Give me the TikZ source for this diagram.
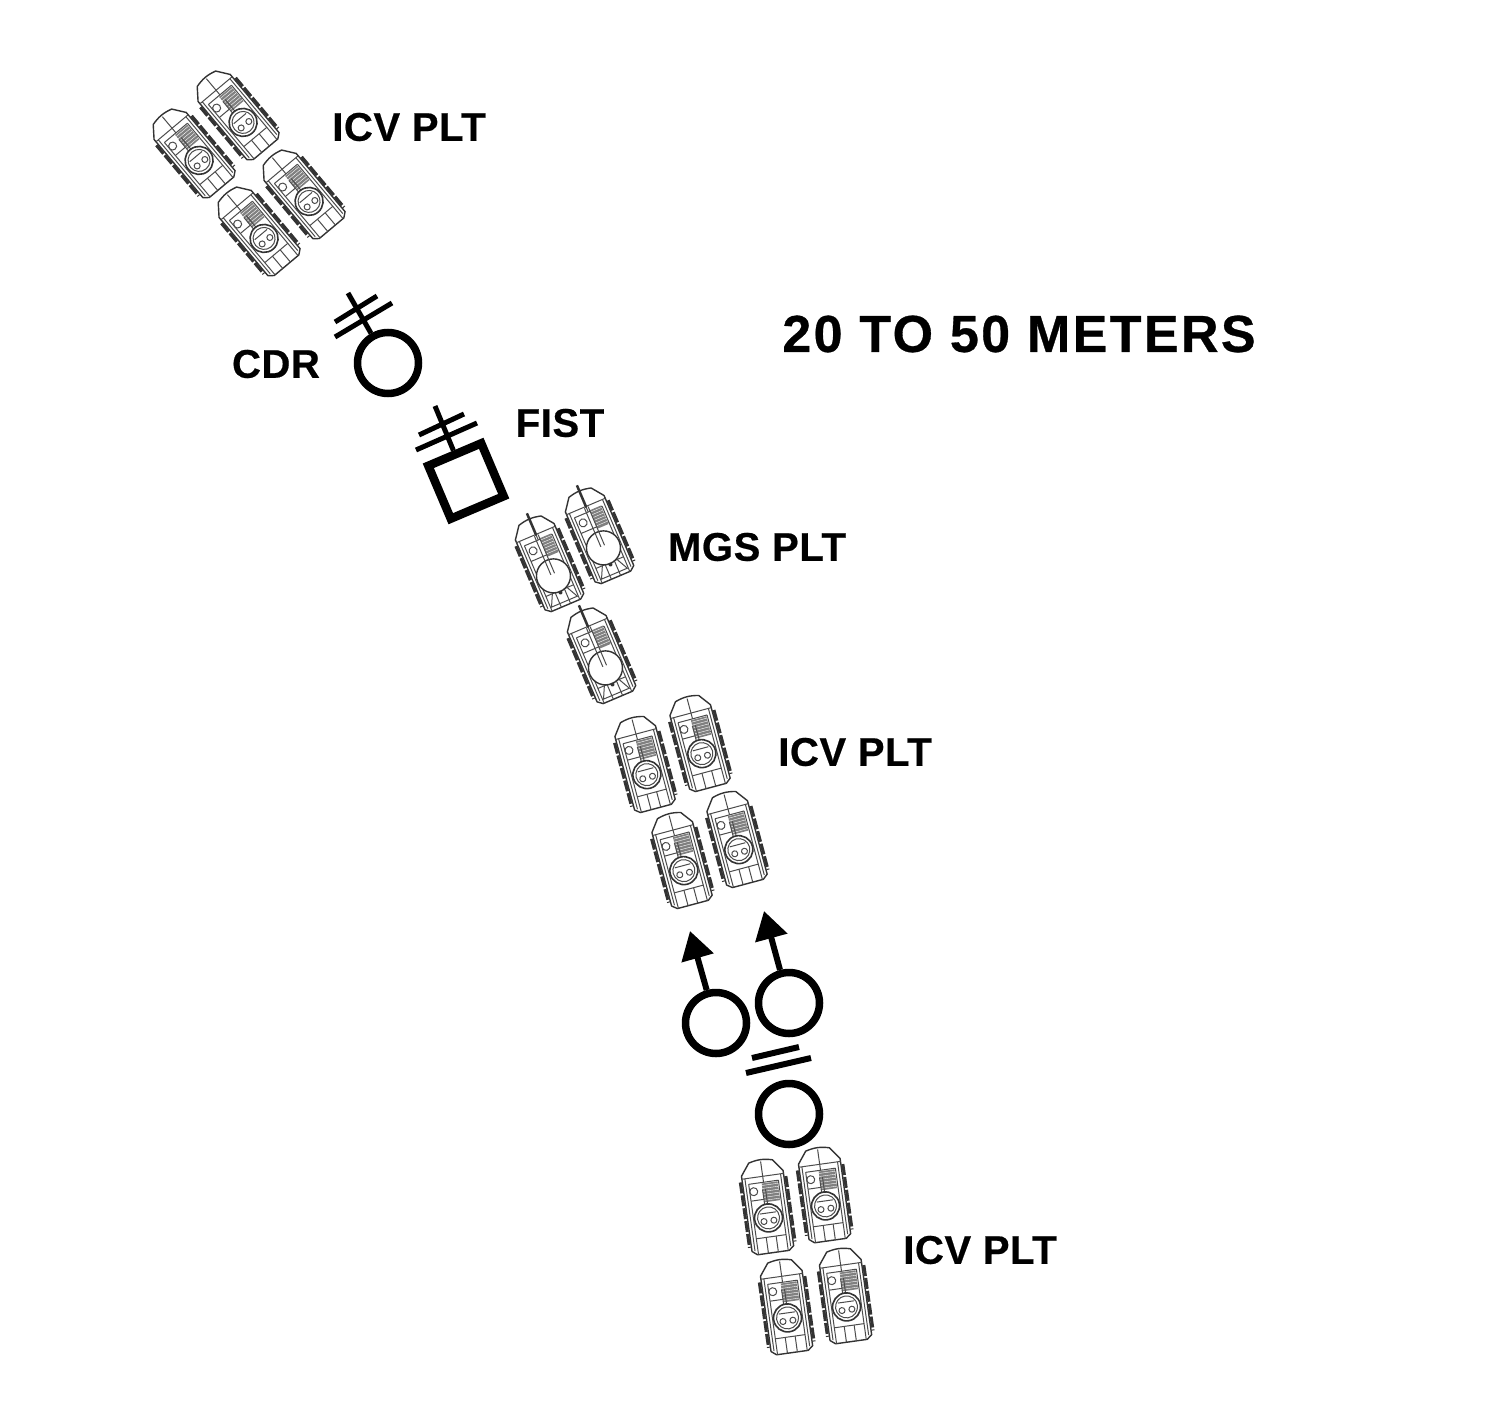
\documentclass[tikz,border=0pt]{standalone}
\usepackage{fontspec}
\setmainfont{Liberation Sans}
\usetikzlibrary{
	arrows.meta
}
% shared body of both carriers
\newcommand{\hullbody}{
	\draw[track line] (-23,-28) -- (-23,38);
	\draw[track line] (23,-28) -- (23,38);
	\draw[hull line] (-12,-46) to[bend left=15] (12,-46) -- (21,-34) -- (21,42) -- (16,46)
		-- (-16,46) -- (-21,42) -- (-21,-34) -- cycle;
	\draw[inner line] (-21,-31) -- (21,-31);
	\draw[inner line] (-15,-25) -- (15,-25);
	\draw[inner line] (-15,-25) -- (-15,46);
	\draw[inner line] (15,-25) -- (15,46);
	\draw[inner line] (-18,-31) -- (-18,42);
	\draw[inner line] (18,-31) -- (18,42);
	\draw[inner line] (0,-46) -- (0,-25);
	\draw[inner line] (-5,30) -- (-5,46);
	\draw[inner line] (5,30) -- (5,46);
	\draw[inner line] (-15,30) -- (15,30);
	\draw[inner line] (-15,-8) -- (15,-8);
}
\tikzset{
	mark line/.style={
		black,
		line width=5pt
	},
	unit ring/.style={
		circle,
		draw=black,
		line width=7.5pt,
		minimum size=61pt,
		inner sep=0pt
	},
	unit box/.style={
		rectangle,
		draw=black,
		line width=8.5pt,
		minimum size=57.5pt,
		inner sep=0pt,
		rotate=23
	},
	plt label/.style={
		font=\bfseries\fontsize{40}{40}\selectfont\addfontfeature{LetterSpace=1.5,FakeBold=.5},
		inner sep=0pt
	},
	move arrow/.style={
		black,
		line width=6pt,
		-{Triangle[width=32pt,length=28pt]}
	},
	hull line/.style={
		draw=black!80,
		line width=1.4pt,
		line join=round,
		fill=white
	},
	inner line/.style={
		draw=black!70,
		line width=1pt
	},
	track line/.style={
		draw=black!80,
		line width=3pt,
		dash pattern=on 11pt off 2pt
	},
	pics/icv/.style={
		code={
			\hullbody
			\fill[black!50] (-2,-24) rectangle (14,-5);
			\foreach \y in {-22,-19,...,-6} {
				\draw[white, line width=.4pt] (-2,\y) -- (14,\y);
			}
			\draw[inner line] (-11,-17) circle (4);
			\draw[inner line] (-2,-18) -- (-2,0);
			\draw[inner line] (1,-18) -- (1,0);
			\draw[draw=black!80, line width=1.6pt, fill=white] (0,11) circle (14);
			\draw[inner line] (0,11) circle (11);
			\draw[inner line] (-5,14) circle (3);
			\draw[inner line] (5,14) circle (3);
			\draw[inner line] (-8,6) -- (8,6);
		}
	},
	pics/mgs/.style={
		code={
			\hullbody
			\fill[black!50] (2,-26) rectangle (14,-6);
			\foreach \y in {-24,-21,...,-8} {
				\draw[white, line width=.4pt] (2,\y) -- (14,\y);
			}
			\draw[inner line] (-9,-17) circle (4);
			\draw[draw=black!80, line width=1.4pt, fill=white] (0,14) circle (17);
			\draw[inner line] (-8,30) -- (-14,42) -- (14,42) -- (8,30);
			\draw[draw=black!80, line width=2.5pt] (0,-54) -- (0,-30);
			\draw[inner line] (-2,-30) -- (-2,12);
			\draw[inner line] (2,-30) -- (2,12);
			\fill[black!80] (0,32) circle (2);
		}
	}
}
\begin{document}
\begin{tikzpicture}[x=1pt,y=-1pt]
	\useasboundingbox (0,0) rectangle (1504,1423);

	% vehicles
	\foreach \px/\py/\ang/\kind in {
		236/114/40/icv, 192/152/40/icv, 302/193/40/icv, 257/230/40/icv,
		548/563/23/mgs, 598/535/23/mgs, 600/655/23/mgs,
		644/764/15/icv, 699/743/15/icv, 681/860/15/icv, 736/839/15/icv,
		767/1207/8/icv, 824/1195/8/icv, 786/1307/8/icv, 845/1296/8/icv} {
		\pic[rotate=\ang] at (\px,\py) {\kind};
	}

	% labels
	\node[plt label] (plt1) at (409,127) {ICV PLT};
	\node[plt label] (cdrtext) at (276,364) {CDR};
	\node[plt label] (fisttext) at (560,423) {FIST};
	\node[plt label] (plt2) at (757,547) {MGS PLT};
	\node[plt label] (plt3) at (855,752) {ICV PLT};
	\node[plt label] (plt4) at (980,1250) {ICV PLT};
	\node[plt label, font=\bfseries\fontsize{52}{52}\selectfont\addfontfeature{LetterSpace=4.6,FakeBold=.6}] (dist) at (1019,334) {20 TO 50 METERS};

	% commander
	\node[unit ring] (cdr) at (388,363) {};
	\coordinate (cdrtop) at (348,293);
	\draw[mark line] (cdr) -- (cdrtop);
	\draw[mark line] (335,322) -- (377,296);
	\draw[mark line] (335,337) -- (392,303);

	% fire support
	\node[unit box] (fist) at (466,481) {};
	\coordinate (fisttop) at (435,406);
	\draw[mark line] (fist) -- (fisttop);
	\draw[mark line] (419,435) -- (464,414);
	\draw[mark line] (416,450) -- (477,423);

	% section rings
	\node[unit ring] (left) at (716,1023) {};
	\node[unit ring] (right) at (789,1003) {};
	\node[unit ring] (lower) at (789,1114) {};
	\coordinate (lefttip) at (690,931);
	\coordinate (righttip) at (764,911);
	\draw[move arrow] (left) -- (lefttip);
	\draw[move arrow] (right) -- (righttip);
	\draw[mark line, line width=6pt] (752,1058) -- (799,1047);
	\draw[mark line, line width=6pt] (746,1073) -- (811,1058);
\end{tikzpicture}
\end{document}
